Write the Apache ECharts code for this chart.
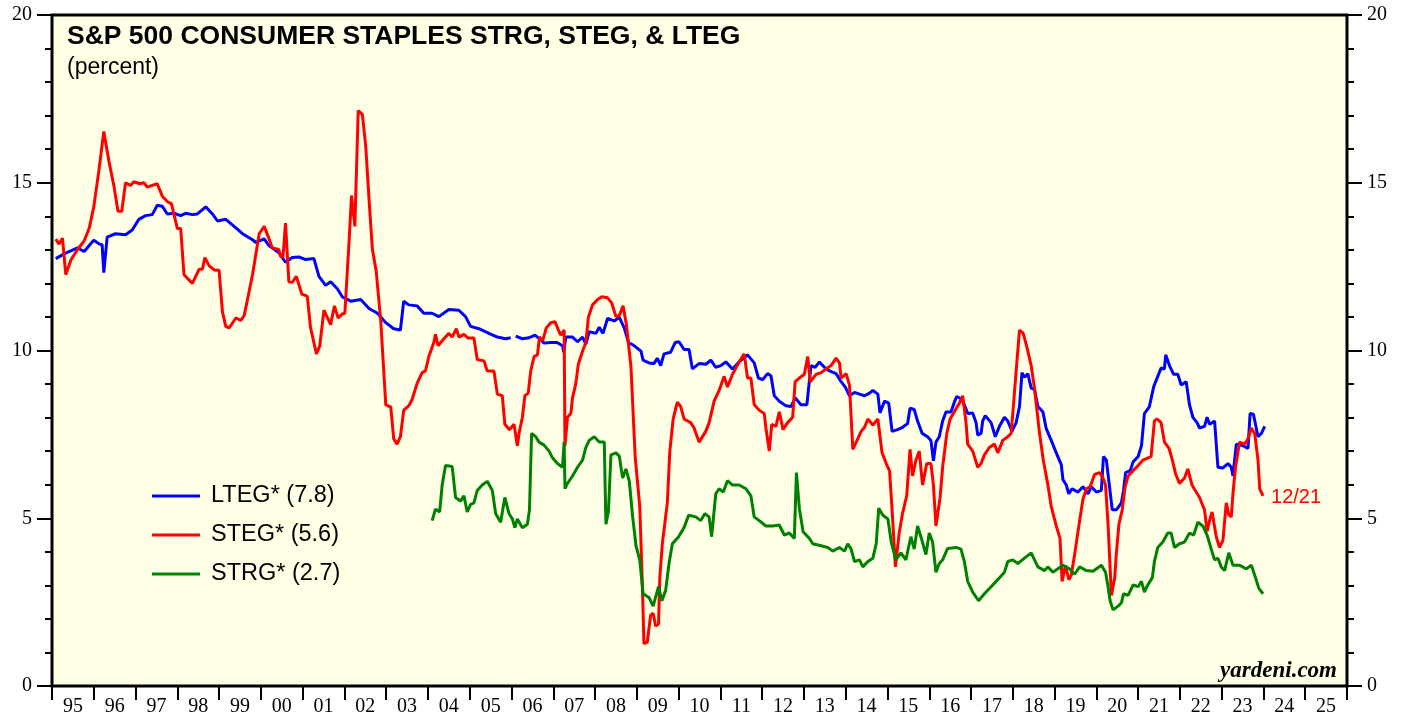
<!DOCTYPE html>
<html>
<head>
<meta charset="utf-8">
<script src="https://cdn.jsdelivr.net/npm/echarts@6/dist/echarts.min.js"></script>
<style>
  html, body { margin: 0; padding: 0; background: #fff; }
  #chart { width: 1407px; height: 717px; }
</style>
</head>
<body>
<div id="chart"></div>
<script>
  // year labels shown between the yearly ticks
  var yearLabels = ['95','96','97','98','99','00','01','02','03','04','05','06','07','08','09','10',
    '11','12','13','14','15','16','17','18','19','20','21','22','23','24','25'];

  // [decimal year, percent]
  var lteg = [[1995.09,12.74],[1995.25,12.85],[1995.41,12.95],[1995.61,13.06],[1995.77,12.95],[1995.89,13.13],[1996.0,13.29],[1996.14,13.17],[1996.2,13.15],[1996.24,12.32],[1996.32,13.38],[1996.52,13.48],[1996.76,13.45],[1996.92,13.59],[1997.08,13.91],[1997.24,14.02],[1997.4,14.05],[1997.52,14.33],[1997.64,14.3],[1997.76,14.07],[1997.92,14.09],[1998.08,14.02],[1998.2,14.09],[1998.36,14.05],[1998.48,14.07],[1998.68,14.28],[1998.84,14.07],[1998.96,13.86],[1999.16,13.91],[1999.36,13.7],[1999.56,13.48],[1999.8,13.3],[1999.88,13.22],[2000.08,13.33],[2000.19,13.13],[2000.43,12.92],[2000.59,12.63],[2000.75,12.77],[2000.91,12.79],[2001.07,12.71],[2001.27,12.74],[2001.39,12.21],[2001.55,11.94],[2001.67,12.05],[2001.83,11.84],[2001.95,11.6],[2002.15,11.47],[2002.39,11.52],[2002.59,11.25],[2002.79,11.11],[2002.99,10.83],[2003.18,10.65],[2003.34,10.61],[2003.42,11.47],[2003.54,11.36],[2003.74,11.33],[2003.9,11.11],[2004.1,11.11],[2004.26,11.01],[2004.5,11.22],[2004.74,11.2],[2004.9,11.01],[2005.02,10.72],[2005.22,10.65],[2005.46,10.51],[2005.66,10.4],[2005.86,10.35],[2005.98,10.38],[2006.03,'-'],[2006.1,10.43],[2006.26,10.35],[2006.42,10.38],[2006.56,10.46],[2006.67,10.35],[2006.78,10.22],[2006.94,10.24],[2007.09,10.24],[2007.22,10.14],[2007.25,9.95],[2007.3,10.4],[2007.46,10.4],[2007.58,10.26],[2007.7,10.4],[2007.78,10.19],[2007.86,10.56],[2008.02,10.51],[2008.1,10.69],[2008.19,10.51],[2008.3,10.96],[2008.46,10.88],[2008.58,10.99],[2008.7,10.67],[2008.8,10.24],[2008.94,10.14],[2009.1,9.98],[2009.15,9.71],[2009.29,9.63],[2009.41,9.61],[2009.49,9.77],[2009.57,9.55],[2009.65,9.9],[2009.81,9.95],[2009.92,10.24],[2010.01,10.26],[2010.13,10.03],[2010.25,10.03],[2010.33,9.45],[2010.49,9.61],[2010.65,9.59],[2010.77,9.71],[2010.89,9.5],[2011.01,9.55],[2011.13,9.66],[2011.29,9.45],[2011.45,9.66],[2011.65,9.87],[2011.81,9.63],[2011.91,9.18],[2012.01,9.13],[2012.13,9.31],[2012.21,9.25],[2012.29,8.65],[2012.41,8.49],[2012.57,8.35],[2012.69,8.33],[2012.79,8.59],[2012.93,8.38],[2013.07,8.38],[2013.11,8.86],[2013.17,9.55],[2013.27,9.5],[2013.37,9.66],[2013.49,9.5],[2013.61,9.39],[2013.77,9.31],[2013.89,9.07],[2013.99,8.91],[2014.09,8.65],[2014.21,8.75],[2014.33,8.7],[2014.45,8.65],[2014.57,8.73],[2014.65,8.81],[2014.77,8.7],[2014.82,8.14],[2014.93,8.49],[2015.03,8.43],[2015.11,7.59],[2015.24,7.64],[2015.36,7.71],[2015.48,7.82],[2015.54,8.28],[2015.64,8.24],[2015.72,7.9],[2015.83,7.53],[2015.96,7.43],[2016.04,7.32],[2016.1,6.71],[2016.16,7.27],[2016.24,7.43],[2016.32,7.9],[2016.4,8.17],[2016.52,8.17],[2016.6,8.46],[2016.66,8.63],[2016.76,8.56],[2016.84,8.38],[2016.92,8.12],[2017.04,8.14],[2017.12,7.85],[2017.16,7.48],[2017.24,7.53],[2017.28,7.9],[2017.34,8.06],[2017.48,7.85],[2017.58,7.43],[2017.68,7.74],[2017.8,8.01],[2017.88,7.9],[2017.98,7.59],[2018.08,7.85],[2018.16,8.33],[2018.22,9.34],[2018.28,9.2],[2018.36,9.31],[2018.44,8.88],[2018.52,8.84],[2018.6,8.33],[2018.72,8.17],[2018.8,7.67],[2018.92,7.32],[2019.04,6.95],[2019.16,6.6],[2019.2,6.15],[2019.28,5.99],[2019.34,5.73],[2019.42,5.88],[2019.56,5.78],[2019.68,5.94],[2019.8,5.73],[2019.88,5.94],[2020.0,5.78],[2020.12,5.83],[2020.17,6.84],[2020.24,6.73],[2020.3,6.1],[2020.38,5.25],[2020.48,5.25],[2020.6,5.46],[2020.65,5.83],[2020.7,6.36],[2020.81,6.42],[2020.88,6.68],[2021.0,6.84],[2021.08,7.16],[2021.15,8.12],[2021.27,8.33],[2021.37,8.91],[2021.47,9.23],[2021.55,9.48],[2021.63,9.45],[2021.66,9.87],[2021.75,9.55],[2021.85,9.29],[2021.95,9.29],[2022.03,8.97],[2022.15,9.07],[2022.23,8.38],[2022.31,8.01],[2022.41,7.85],[2022.47,7.69],[2022.59,7.74],[2022.65,8.01],[2022.71,7.8],[2022.83,7.9],[2022.91,6.52],[2023.03,6.5],[2023.15,6.63],[2023.23,6.52],[2023.27,6.26],[2023.35,7.21],[2023.51,7.16],[2023.63,7.08],[2023.68,8.12],[2023.76,8.1],[2023.87,7.43],[2023.95,7.53],[2024.03,7.74]];

  var steg = [[1995.09,13.32],[1995.17,13.17],[1995.25,13.35],[1995.33,12.26],[1995.45,12.69],[1995.61,13.01],[1995.77,13.27],[1995.89,13.64],[1996.0,14.28],[1996.12,15.34],[1996.24,16.53],[1996.36,15.66],[1996.48,14.92],[1996.58,14.15],[1996.67,14.15],[1996.76,15.0],[1996.88,14.92],[1996.96,15.03],[1997.1,14.97],[1997.2,15.0],[1997.28,14.87],[1997.4,14.92],[1997.52,14.97],[1997.64,14.6],[1997.76,14.44],[1997.86,14.37],[1998.0,13.64],[1998.08,13.64],[1998.16,12.26],[1998.36,12.0],[1998.52,12.42],[1998.6,12.42],[1998.66,12.77],[1998.76,12.53],[1998.88,12.4],[1999.0,12.39],[1999.08,11.15],[1999.16,10.72],[1999.24,10.67],[1999.4,10.97],[1999.52,10.9],[1999.6,11.04],[1999.68,11.52],[1999.8,12.26],[1999.96,13.48],[2000.08,13.7],[2000.18,13.38],[2000.27,13.06],[2000.43,13.01],[2000.47,12.8],[2000.53,12.8],[2000.59,13.8],[2000.67,12.05],[2000.75,12.03],[2000.85,12.21],[2000.98,11.68],[2001.11,11.62],[2001.19,10.67],[2001.33,9.9],[2001.41,10.14],[2001.51,11.2],[2001.67,10.77],[2001.76,11.33],[2001.85,10.97],[2001.95,11.09],[2002.01,11.11],[2002.11,13.22],[2002.17,14.62],[2002.25,13.7],[2002.33,17.15],[2002.43,17.04],[2002.51,16.09],[2002.59,14.49],[2002.67,13.01],[2002.76,12.37],[2002.87,10.88],[2002.99,8.38],[2003.11,8.31],[2003.18,7.37],[2003.26,7.21],[2003.34,7.43],[2003.42,8.22],[2003.54,8.35],[2003.62,8.54],[2003.74,9.02],[2003.86,9.34],[2003.94,9.39],[2004.02,9.82],[2004.14,10.24],[2004.18,10.48],[2004.24,10.14],[2004.38,10.35],[2004.5,10.51],[2004.58,10.4],[2004.68,10.65],[2004.74,10.4],[2004.86,10.48],[2004.96,10.37],[2005.1,10.37],[2005.18,9.73],[2005.34,9.69],[2005.42,9.39],[2005.58,9.39],[2005.66,8.7],[2005.78,8.65],[2005.84,7.8],[2005.95,7.64],[2006.06,7.8],[2006.14,7.16],[2006.18,7.53],[2006.26,8.01],[2006.32,8.65],[2006.4,8.73],[2006.46,9.39],[2006.54,9.82],[2006.62,9.87],[2006.67,10.4],[2006.75,10.3],[2006.83,10.67],[2006.94,10.83],[2007.04,10.86],[2007.14,10.56],[2007.18,10.46],[2007.26,10.61],[2007.28,7.16],[2007.34,8.01],[2007.42,8.12],[2007.46,8.59],[2007.54,9.02],[2007.6,9.6],[2007.7,9.98],[2007.78,10.24],[2007.84,10.99],[2007.94,11.36],[2008.06,11.52],[2008.16,11.6],[2008.3,11.57],[2008.4,11.41],[2008.5,11.01],[2008.58,11.04],[2008.67,11.33],[2008.75,10.77],[2008.86,9.5],[2008.96,6.84],[2009.07,5.35],[2009.13,3.12],[2009.17,1.26],[2009.25,1.31],[2009.33,2.11],[2009.39,2.17],[2009.45,1.79],[2009.52,1.85],[2009.55,3.23],[2009.61,4.24],[2009.73,5.46],[2009.79,7.0],[2009.87,7.96],[2009.97,8.46],[2010.05,8.33],[2010.13,7.96],[2010.29,7.85],[2010.37,7.69],[2010.49,7.27],[2010.65,7.59],[2010.73,7.85],[2010.85,8.49],[2010.97,8.81],[2011.09,9.23],[2011.17,8.91],[2011.29,9.29],[2011.45,9.66],[2011.57,9.9],[2011.65,9.18],[2011.73,9.18],[2011.81,8.38],[2011.93,8.22],[2012.05,8.12],[2012.09,7.69],[2012.17,7.0],[2012.23,7.8],[2012.33,7.74],[2012.41,8.17],[2012.5,7.64],[2012.61,7.85],[2012.73,8.01],[2012.79,9.07],[2012.89,9.18],[2013.01,9.29],[2013.09,9.82],[2013.15,9.07],[2013.29,9.29],[2013.41,9.34],[2013.53,9.45],[2013.65,9.55],[2013.77,9.77],[2013.85,9.63],[2013.89,9.18],[2014.01,9.31],[2014.09,8.97],[2014.17,7.05],[2014.29,7.37],[2014.37,7.59],[2014.45,7.71],[2014.53,7.96],[2014.65,7.78],[2014.77,7.96],[2014.87,6.95],[2014.97,6.63],[2015.05,6.41],[2015.11,5.25],[2015.19,3.55],[2015.28,4.56],[2015.36,5.14],[2015.46,5.67],[2015.54,7.05],[2015.6,6.26],[2015.68,6.73],[2015.76,7.0],[2015.84,5.99],[2015.94,6.63],[2016.04,6.63],[2016.1,5.99],[2016.16,4.77],[2016.26,5.62],[2016.32,6.52],[2016.42,7.53],[2016.5,7.96],[2016.62,8.22],[2016.72,8.43],[2016.8,8.65],[2016.88,7.85],[2016.92,7.21],[2017.04,7.0],[2017.16,6.52],[2017.24,6.63],[2017.32,6.89],[2017.44,7.11],[2017.56,7.21],[2017.64,6.95],[2017.76,7.32],[2017.88,7.43],[2017.96,7.53],[2018.01,8.28],[2018.08,9.39],[2018.16,10.61],[2018.25,10.51],[2018.33,10.14],[2018.44,9.55],[2018.52,8.86],[2018.64,7.53],[2018.73,6.73],[2018.84,5.99],[2018.92,5.35],[2019.04,4.77],[2019.13,4.4],[2019.18,3.12],[2019.26,3.6],[2019.34,3.17],[2019.4,3.3],[2019.48,3.92],[2019.53,4.34],[2019.6,4.93],[2019.68,5.57],[2019.76,5.88],[2019.85,5.94],[2019.96,6.31],[2020.08,6.36],[2020.16,6.2],[2020.22,5.99],[2020.28,4.82],[2020.36,2.7],[2020.44,3.23],[2020.48,3.97],[2020.54,4.82],[2020.62,5.25],[2020.68,5.88],[2020.76,6.26],[2020.88,6.42],[2021.0,6.57],[2021.11,6.73],[2021.23,6.79],[2021.31,6.84],[2021.39,7.9],[2021.45,7.96],[2021.55,7.85],[2021.63,7.27],[2021.74,7.08],[2021.82,6.73],[2021.9,6.31],[2021.99,6.04],[2022.11,6.2],[2022.19,6.47],[2022.29,5.99],[2022.39,5.78],[2022.47,5.62],[2022.59,5.25],[2022.65,4.61],[2022.71,4.93],[2022.77,5.19],[2022.87,4.45],[2022.95,4.13],[2023.03,4.34],[2023.11,5.46],[2023.17,5.1],[2023.23,5.04],[2023.27,5.73],[2023.33,6.52],[2023.43,7.27],[2023.55,7.21],[2023.63,7.37],[2023.71,7.69],[2023.79,7.53],[2023.87,6.73],[2023.91,5.88],[2023.99,5.67]];

  var strg = [[2004.1,4.93],[2004.18,5.27],[2004.28,5.19],[2004.34,5.99],[2004.42,6.57],[2004.58,6.54],[2004.66,5.62],[2004.78,5.51],[2004.86,5.67],[2004.94,5.19],[2005.02,5.41],[2005.1,5.46],[2005.18,5.83],[2005.3,5.99],[2005.42,6.1],[2005.54,5.83],[2005.62,5.14],[2005.74,4.88],[2005.84,5.62],[2005.94,5.14],[2006.02,4.98],[2006.08,4.72],[2006.14,4.98],[2006.26,4.72],[2006.38,4.82],[2006.43,5.25],[2006.48,7.53],[2006.58,7.43],[2006.66,7.27],[2006.78,7.18],[2006.9,7.0],[2006.98,6.8],[2007.1,6.63],[2007.22,6.52],[2007.26,7.27],[2007.28,5.88],[2007.34,6.04],[2007.46,6.26],[2007.58,6.52],[2007.7,6.73],[2007.78,7.11],[2007.86,7.32],[2007.98,7.43],[2008.1,7.27],[2008.22,7.27],[2008.26,4.82],[2008.32,5.2],[2008.38,6.89],[2008.5,6.95],[2008.58,6.85],[2008.66,6.2],[2008.74,6.47],[2008.82,6.1],[2008.9,5.04],[2008.98,4.18],[2009.07,3.76],[2009.15,2.75],[2009.29,2.64],[2009.39,2.38],[2009.52,2.96],[2009.6,2.54],[2009.69,2.85],[2009.77,3.65],[2009.85,4.24],[2010.0,4.45],[2010.13,4.72],[2010.24,5.09],[2010.41,5.04],[2010.53,4.93],[2010.63,5.14],[2010.73,5.04],[2010.79,4.45],[2010.89,5.73],[2010.97,5.88],[2011.07,5.78],[2011.17,6.12],[2011.29,5.99],[2011.45,5.99],[2011.61,5.88],[2011.73,5.67],[2011.81,5.04],[2011.93,4.93],[2012.09,4.77],[2012.25,4.77],[2012.41,4.8],[2012.53,4.5],[2012.65,4.56],[2012.77,4.4],[2012.82,6.36],[2012.89,5.3],[2012.98,4.6],[2013.13,4.4],[2013.21,4.24],[2013.41,4.18],[2013.57,4.13],[2013.69,4.02],[2013.85,4.13],[2013.97,4.02],[2014.05,4.24],[2014.13,4.08],[2014.21,3.71],[2014.33,3.76],[2014.41,3.55],[2014.53,3.71],[2014.65,3.81],[2014.73,4.24],[2014.79,5.3],[2014.89,5.09],[2015.01,4.98],[2015.09,4.29],[2015.2,3.76],[2015.32,3.97],[2015.44,3.76],[2015.56,4.45],[2015.64,4.08],[2015.72,4.77],[2015.8,4.45],[2015.92,3.92],[2016.0,4.56],[2016.08,4.29],[2016.16,3.39],[2016.24,3.65],[2016.32,3.76],[2016.44,4.1],[2016.64,4.13],[2016.76,4.08],[2016.84,3.71],[2016.92,3.12],[2017.04,2.8],[2017.18,2.54],[2017.32,2.75],[2017.48,2.96],[2017.64,3.17],[2017.8,3.39],[2017.88,3.71],[2018.0,3.76],[2018.12,3.65],[2018.28,3.81],[2018.44,3.97],[2018.6,3.55],[2018.76,3.44],[2018.84,3.55],[2018.96,3.39],[2019.2,3.6],[2019.36,3.49],[2019.48,3.33],[2019.6,3.55],[2019.76,3.44],[2019.92,3.42],[2020.12,3.6],[2020.22,3.39],[2020.28,2.96],[2020.33,2.54],[2020.4,2.27],[2020.52,2.38],[2020.6,2.48],[2020.65,2.75],[2020.76,2.7],[2020.88,3.01],[2021.0,2.96],[2021.08,3.12],[2021.15,2.8],[2021.23,3.01],[2021.34,3.23],[2021.39,3.71],[2021.47,4.13],[2021.59,4.29],[2021.71,4.56],[2021.79,4.56],[2021.87,4.13],[2021.99,4.24],[2022.11,4.29],[2022.23,4.56],[2022.33,4.5],[2022.43,4.88],[2022.55,4.77],[2022.65,4.5],[2022.75,4.08],[2022.83,3.76],[2022.91,3.81],[2022.99,3.55],[2023.07,3.44],[2023.17,3.97],[2023.27,3.6],[2023.43,3.6],[2023.59,3.49],[2023.71,3.6],[2023.81,3.23],[2023.89,2.91],[2023.99,2.75]];

  var names = ['LTEG* (7.8)', 'STEG* (5.6)', 'STRG* (2.7)'];

  var myChart = echarts.init(document.getElementById('chart'));

  var yAxisBase = function (pos) {
    return {
      type: 'value',
      position: pos,
      min: 0,
      max: 20,
      interval: 5,
      axisLine: { show: false },
      splitLine: { show: false },
      axisTick: { show: true, length: 15, lineStyle: { color: '#000', width: 2 } },
      minorTick: { show: true, splitNumber: 5, length: 7, lineStyle: { color: '#000', width: 2 } },
      axisLabel: { margin: 20, color: '#000', fontFamily: 'Liberation Serif', fontSize: 20 }
    };
  };

  var option = {
    backgroundColor: '#fff',
    animation: false,
    title: {
      text: 'S&P 500 CONSUMER STAPLES STRG, STEG, & LTEG',
      subtext: '(percent)',
      left: 67,
      top: 24,
      padding: 0,
      itemGap: 6,
      textStyle: { fontFamily: 'Liberation Sans', fontWeight: 'bold', fontSize: 26.5, color: '#000', lineHeight: 26 },
      subtextStyle: { fontFamily: 'Liberation Sans', fontSize: 23, color: '#000', lineHeight: 22 }
    },
    legend: {
      orient: 'vertical',
      left: 152,
      top: 484,
      padding: 0,
      icon: 'rect',
      itemWidth: 48,
      itemHeight: 3,
      itemGap: 15,
      data: names,
      textStyle: { fontFamily: 'Liberation Sans', fontSize: 23.5, color: '#000', lineHeight: 22, padding: [0, 0, 0, 6] }
    },
    grid: {
      left: 52, right: 60, top: 15, bottom: 30,
      show: true,
      backgroundColor: '#ffffe5',
      borderColor: '#000',
      borderWidth: 3
    },
    xAxis: [
      { type: 'value', min: 1995, max: 2026, show: false },
      {
        type: 'category',
        position: 'bottom',
        data: yearLabels,
        boundaryGap: true,
        axisLine: { show: false },
        axisTick: { show: true, interval: 0, length: 14, lineStyle: { color: '#000', width: 2 } },
        axisLabel: { interval: 0, margin: 11, color: '#000', fontFamily: 'Liberation Serif', fontSize: 20 }
      }
    ],
    yAxis: [yAxisBase('left'), yAxisBase('right')],
    graphic: [{
      type: 'text',
      right: 70,
      top: 660,
      style: { text: 'yardeni.com', font: 'italic bold 23px "Liberation Serif"', fill: '#000' }
    }],
    series: [
      { name: names[0], type: 'line', data: lteg, symbol: 'none', lineStyle: { color: '#0000ff', width: 3 }, itemStyle: { color: '#0000ff' } },
      {
        name: names[1], type: 'line', data: steg, symbol: 'none', lineStyle: { color: '#ff0000', width: 3 }, itemStyle: { color: '#ff0000' },
        endLabel: { show: true, formatter: '12/21', color: '#ff0000', fontFamily: 'Liberation Sans', fontSize: 20, distance: 8, offset: [0, 2] }
      },
      { name: names[2], type: 'line', data: strg, symbol: 'none', lineStyle: { color: '#008000', width: 3 }, itemStyle: { color: '#008000' } }
    ]
  };

  myChart.setOption(option);
</script>
</body>
</html>
